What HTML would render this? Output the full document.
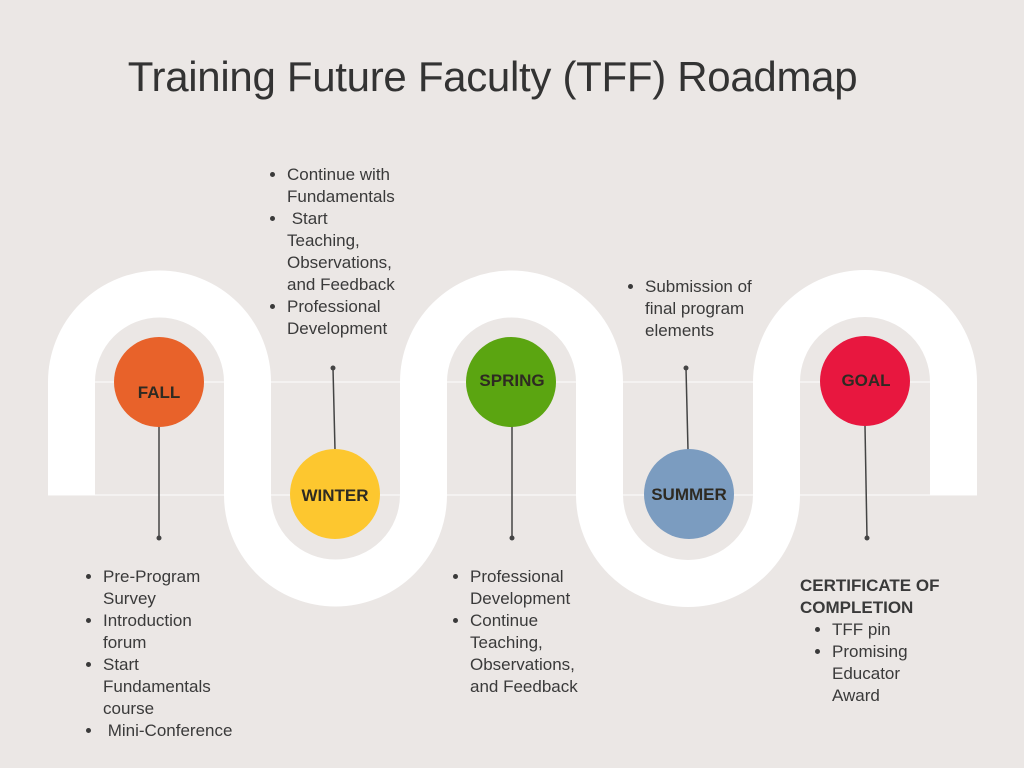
<!DOCTYPE html>
<html><head><meta charset="utf-8"><style>
body{margin:0;background:#ebe7e5;}
#c{position:relative;width:1024px;height:768px;overflow:hidden;background:#ebe7e5;font-family:"Liberation Sans",sans-serif;color:#3a3a3a;}
.t{position:absolute;font-size:17px;line-height:22px;white-space:nowrap;}
.t ul{margin:0;padding-left:20px;}
h1{position:absolute;left:0;width:985px;text-align:center;top:53px;margin:0;font-weight:normal;font-size:42px;color:#333;letter-spacing:-0.3px;}
</style></head><body><div id="c">
<svg width="1024" height="768" style="position:absolute;left:0;top:0">
<line x1="48" y1="382" x2="977" y2="382" stroke="#f4f2f1" stroke-width="2"/>
<line x1="48" y1="495" x2="977" y2="495" stroke="#f4f2f1" stroke-width="2"/>
<path d="M71.5 495 V382 A88 88 0 0 1 247.5 382 V495 A88 88 0 0 0 423.5 495 V382 A88 88 0 0 1 599.5 382 V495 A88 88 0 0 0 776.5 495 V382 A88 88 0 0 1 953.5 382 V495" fill="none" stroke="#fff" stroke-width="47"/>
<g stroke="#444" stroke-width="1.5">
<line x1="159" y1="426" x2="159" y2="538"/><line x1="333" y1="368" x2="335" y2="450"/>
<line x1="512" y1="426" x2="512" y2="538"/><line x1="686" y1="368" x2="688" y2="450"/>
<line x1="865" y1="426" x2="867" y2="538"/></g>
<g fill="#444"><circle cx="159" cy="538" r="2.5"/><circle cx="333" cy="368" r="2.5"/><circle cx="512" cy="538" r="2.5"/><circle cx="686" cy="368" r="2.5"/><circle cx="867" cy="538" r="2.5"/></g>
<circle cx="159" cy="382" r="45" fill="#e8622a"/>
<circle cx="335" cy="494" r="45" fill="#fdc72f"/>
<circle cx="511" cy="382" r="45" fill="#5ba511"/>
<circle cx="689" cy="494" r="45" fill="#7b9cc0"/>
<circle cx="865" cy="381" r="45" fill="#e8173f"/>
<g font-family="Liberation Sans,sans-serif" font-weight="bold" font-size="17" fill="#2e2a22" text-anchor="middle">
<text x="159" y="398">FALL</text><text x="335" y="501">WINTER</text><text x="512" y="386">SPRING</text><text x="689" y="500">SUMMER</text><text x="866" y="386">GOAL</text></g>
</svg>
<h1>Training Future Faculty (TFF) Roadmap</h1>
<div class="t" style="left:267px;top:164px"><ul><li>Continue with<br>Fundamentals</li><li>&nbsp;Start<br>Teaching,<br>Observations,<br>and Feedback</li><li>Professional<br>Development</li></ul></div>
<div class="t" style="left:625px;top:276px"><ul><li>Submission of<br>final program<br>elements</li></ul></div>
<div class="t" style="left:83px;top:566px"><ul><li>Pre-Program<br>Survey</li><li>Introduction<br>forum</li><li>Start<br>Fundamentals<br>course</li><li>&nbsp;Mini-Conference</li></ul></div>
<div class="t" style="left:450px;top:566px"><ul><li>Professional<br>Development</li><li>Continue<br>Teaching,<br>Observations,<br>and Feedback</li></ul></div>
<div class="t" style="left:800px;top:575px"><b>CERTIFICATE OF<br>COMPLETION</b><ul style="padding-left:32px"><li>TFF pin</li><li>Promising<br>Educator<br>Award</li></ul></div>
</div></body></html>
